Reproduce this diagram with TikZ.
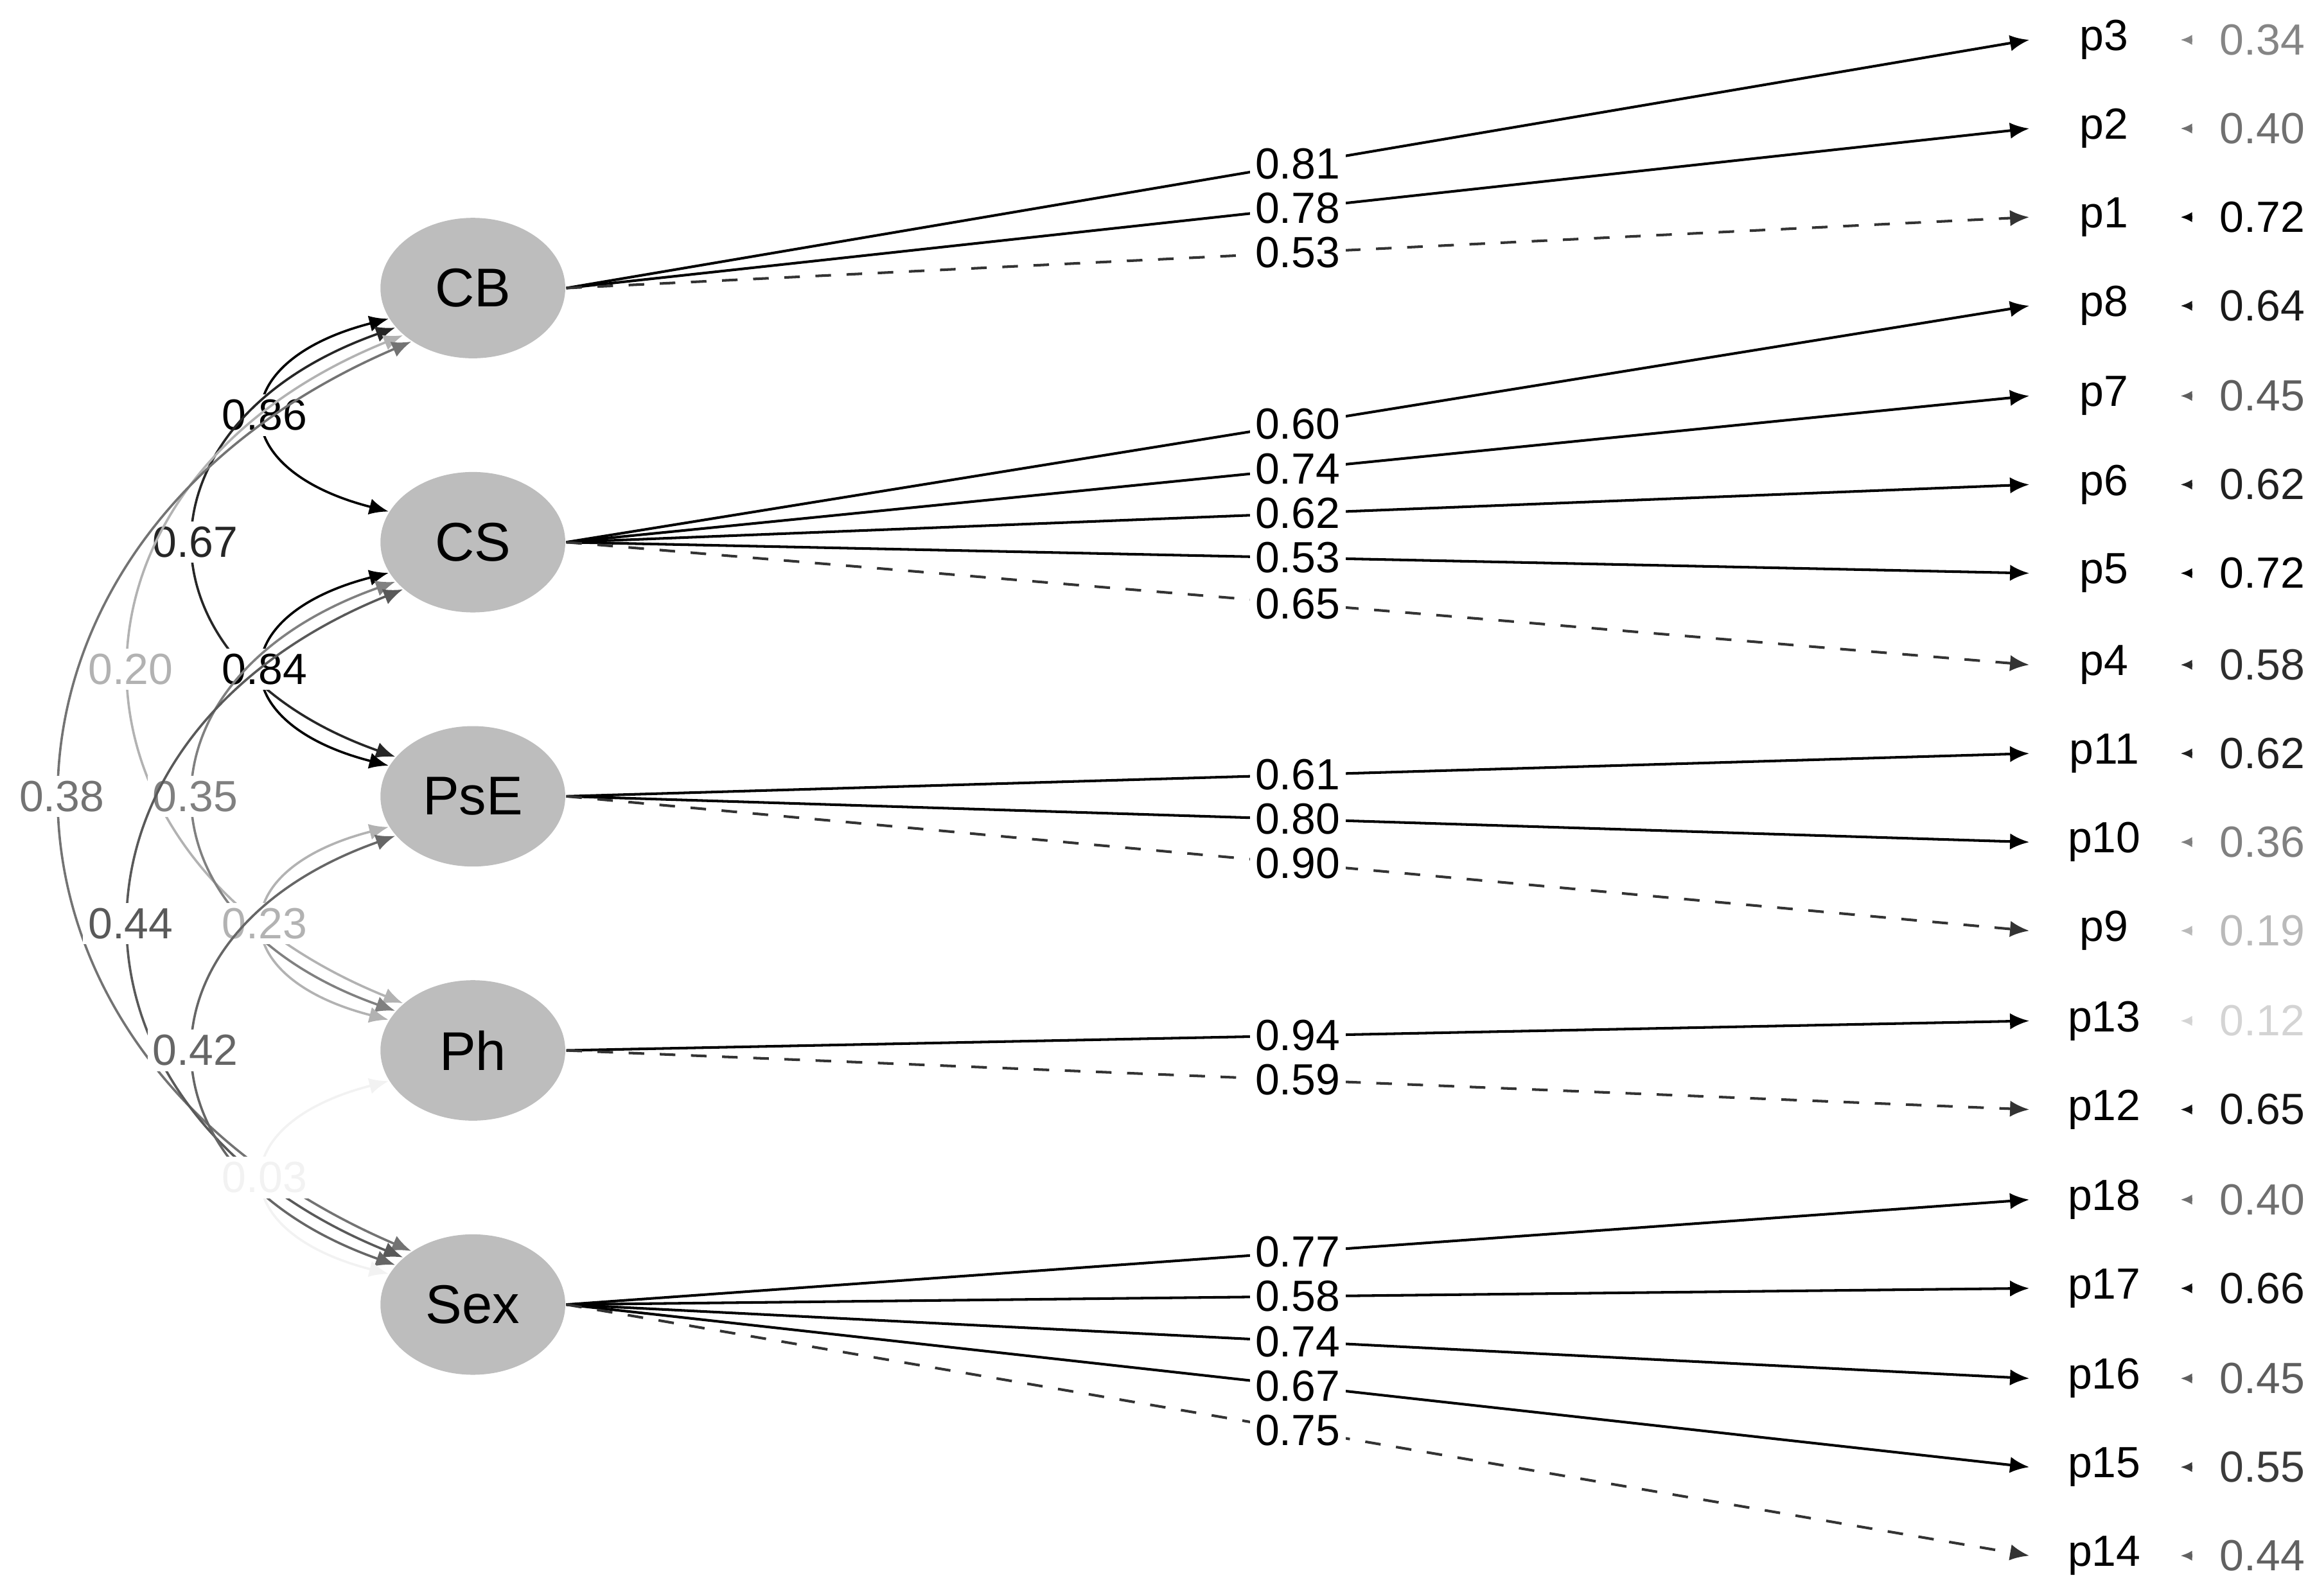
\documentclass[tikz,border=0pt]{standalone}
\usepackage{fontspec}
\setmainfont{Liberation Sans}
\usetikzlibrary{arrows.meta,shapes.geometric,calc}
\begin{document}
\begin{tikzpicture}[x=0.01cm,y=-0.01cm,
  lat/.style={ellipse,fill=black!26,minimum width=1.25cm,minimum height=0.95cm,inner sep=0pt,font=\fontsize{10.5}{12}\selectfont},
  ind/.style={minimum width=1cm,inner sep=0pt,font=\fontsize{8.4}{10}\selectfont},
  res/.style={inner sep=0pt,font=\fontsize{8.4}{10}\selectfont},
  lab/.style={fill=white,inner sep=1pt,font=\fontsize{8.4}{10}\selectfont},
  ld/.style={-{Latex[length=1.3mm,width=1.1mm]},line width=0.5pt},
  ldd/.style={ld,dashed,draw=black!80},
  cv/.style={{Latex[length=1.3mm,width=1.1mm]}-{Latex[length=1.3mm,width=1.1mm]},line width=0.45pt}]
\useasboundingbox (0,0) rectangle (1568,1080);
\node[lat] (CB) at (320,195) {CB};
\node[lat] (CS) at (320,367) {CS};
\node[lat] (PsE) at (320,539) {PsE};
\node[lat] (Ph) at (320,711) {Ph};
\node[lat] (Sex) at (320,883) {Sex};
% indicators and residuals
\foreach \n/\y/\v/\c in {p3/27/0.34/48,p2/87/0.40/56,p1/147/0.72/100,p8/207/0.64/90,p7/268/0.45/63,p6/328/0.62/87,p5/388/0.72/100,p4/450/0.58/82,p11/510/0.62/87,p10/570/0.36/50,p9/630/0.19/27,p13/691/0.12/17,p12/751/0.65/92,p18/812/0.40/56,p17/872/0.66/93,p16/933/0.45/63,p15/993/0.55/77,p14/1053/0.44/62}{
  \node[ind] (\n) at (1424,\y) {\n};
  \node[res,text=black!\c] (e\n) at (1531,\y) {\v};
  \draw[black!\c,-{Latex[length=0.8mm,width=0.7mm]},line width=0.6pt] ([xshift=-0.18cm]e\n.west) -- ++(-8,0);
}
% loadings
\foreach \f/\n/\v/\s in {CB/p3/0.81/ld,CB/p2/0.78/ld,CB/p1/0.53/ldd,
  CS/p8/0.60/ld,CS/p7/0.74/ld,CS/p6/0.62/ld,CS/p5/0.53/ld,CS/p4/0.65/ldd,
  PsE/p11/0.61/ld,PsE/p10/0.80/ld,PsE/p9/0.90/ldd,
  Ph/p13/0.94/ld,Ph/p12/0.59/ldd,
  Sex/p18/0.77/ld,Sex/p17/0.58/ld,Sex/p16/0.74/ld,Sex/p15/0.67/ld,Sex/p14/0.75/ldd}{
  \draw[\s] (\f.east) -- node[lab,midway,solid,text=black] {\v} (\n.west);
}
% covariances
\foreach \a/\b/\d/\xc/\v/\c in {CB/CS/1/151/0.86/100,CB/PsE/2/87/0.67/85,CB/Ph/3/27/0.20/30,CB/Sex/4/-37/0.38/55,
  CS/PsE/1/151/0.84/100,CS/Ph/2/87/0.35/50,CS/Sex/3/27/0.44/65,
  PsE/Ph/1/151/0.23/30,PsE/Sex/2/87/0.42/60,Ph/Sex/1/151/0.03/5}{
  \pgfmathsetmacro{\ang}{160-7*(\d-1)}
  \path (\a.-\ang) coordinate (s) (\b.\ang) coordinate (t);
  \path let \p1=(s),\p2=(t) in coordinate (c1) at (\xc/100*1cm,\y1+0.22*\y2-0.22*\y1)
     coordinate (c2) at (\xc/100*1cm,\y2-0.22*\y2+0.22*\y1);
  \draw[cv,black!\c] (s) .. controls (c1) and (c2) .. node[lab,pos=0.5,text=black!\c] {\v} (t);
}
\end{tikzpicture}
\end{document}
